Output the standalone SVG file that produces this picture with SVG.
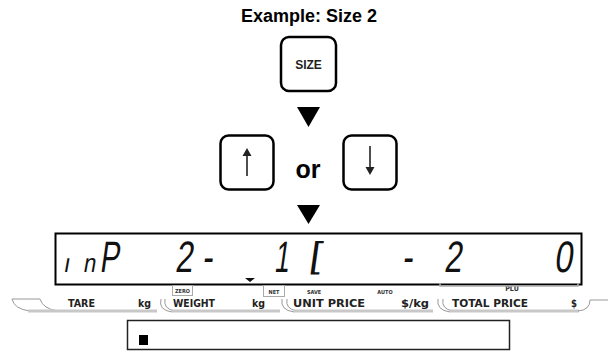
<svg xmlns="http://www.w3.org/2000/svg" width="608" height="353" viewBox="0 0 608 353">
<style>
.key{fill:#fff;stroke:#000;stroke-width:2.5}
.tri{fill:#000}
.seg{font-family:"Liberation Sans",Arial,sans-serif;font-size:44px;fill:#111;text-anchor:middle}
.lbl{font-family:"DejaVu Sans Condensed","DejaVu Sans",sans-serif;font-weight:bold;font-size:10.5px;fill:#222}
.ind{font-family:"DejaVu Sans Condensed","DejaVu Sans",sans-serif;font-weight:bold;font-size:5.5px;fill:#333;text-anchor:middle}
.bar{fill:none;stroke:#c8c8c8;stroke-width:3}
.cur{fill:none;stroke:#999;stroke-width:1}
</style>
<text x="309" y="22" text-anchor="middle" font-family="Liberation Sans,Arial,sans-serif" font-weight="bold" font-size="18" fill="#000">Example: Size 2</text>
<g id="key-size">
<rect class="key" x="281" y="37" width="55" height="54" rx="8"/>
<text x="308.5" y="68.5" text-anchor="middle" font-family="Liberation Sans,Arial,sans-serif" font-weight="bold" font-size="12" fill="#222">SIZE</text>
</g>
<g id="connectors">
<polygon class="tri" points="297,107 320,107 308.5,127"/>
<polygon class="tri" points="297,205 320,205 308.5,224"/>
</g>
<g id="key-up">
<rect class="key" x="220.5" y="135.5" width="53" height="54" rx="8"/>
<line x1="247" y1="153" x2="247" y2="176" stroke="#222" stroke-width="1.6"/>
<polygon points="242.5,156 251.5,156 247,148" fill="#222"/>
</g>
<text id="or" x="308" y="178" text-anchor="middle" font-family="Liberation Sans,Arial,sans-serif" font-weight="bold" font-size="25" fill="#000">or</text>
<g id="key-down">
<rect class="key" x="343.5" y="135.5" width="53" height="54" rx="8"/>
<line x1="370" y1="146" x2="370" y2="170" stroke="#222" stroke-width="1.6"/>
<polygon points="365.5,167 374.5,167 370,175" fill="#222"/>
</g>
<g id="lcd">
<rect x="55.5" y="233.5" width="526" height="51" fill="#fff" stroke="#000" stroke-width="2"/>
<text class="seg" style="font-size:26px" transform="translate(66,272) skewX(-10) scale(0.9,1)">ı</text>
<text class="seg" style="font-size:26px" transform="translate(89,272) skewX(-10) scale(0.85,1)">n</text>
<text class="seg" transform="translate(109,272) skewX(-8) scale(0.66,1)">P</text>
<text class="seg" transform="translate(183.5,272) skewX(-8) scale(0.72,1)">2</text>
<text class="seg" transform="translate(207,272) skewX(-8) scale(0.72,1)">-</text>
<text class="seg" transform="translate(281,272) skewX(-8) scale(0.6,1)">1</text>
<text class="seg" style="font-size:36px" transform="translate(314.5,267) skewX(-8) scale(1.2,1)">[</text>
<text class="seg" transform="translate(407,272) skewX(-8) scale(0.72,1)">-</text>
<text class="seg" transform="translate(452.5,272) skewX(-8) scale(0.72,1)">2</text>
<text class="seg" transform="translate(563,272) skewX(-8) scale(0.75,1)">0</text>
<polygon points="245,278 255,278 250,282" fill="#111"/>
</g>
<g id="indicators">
<rect x="172.5" y="285.5" width="20" height="10" fill="none" stroke="#aaa" stroke-width="1"/>
<text class="ind" x="182.5" y="293">ZERO</text>
<rect x="263.5" y="285.5" width="21" height="11" fill="none" stroke="#aaa" stroke-width="1"/>
<text class="ind" x="274" y="294">NET</text>
<text class="ind" x="314" y="294">SAVE</text>
<text class="ind" x="385" y="294">AUTO</text>
<text class="ind" style="font-size:7px" x="512" y="291">PLU</text>
<path d="M440,283 L440,286 L578,286 L578,283" fill="none" stroke="#aaa" stroke-width="1.5"/>
</g>
<g id="labels">
<path class="cur" d="M12,299 Q14,309 30,311"/>
<path class="cur" d="M12,299 L40,299 Q43,309 58,311"/>
<path class="bar" d="M28,311 L157,311"/>
<path class="cur" d="M161,299 Q158,310 172,312"/>
<path class="cur" d="M165,299 Q163,309 175,311"/>
<path class="bar" d="M172,311 L280,311"/>
<path class="cur" d="M282,299 Q280,310 294,312"/>
<path class="cur" d="M287,299 Q285,309 297,311"/>
<path class="bar" d="M294,311 L433,311"/>
<path class="cur" d="M438,299 Q436,310 450,312"/>
<path class="cur" d="M443,299 Q441,309 453,311"/>
<path class="bar" d="M450,311 L579,311"/>
<path class="cur" d="M578,311 Q590,310 590,300 L608,300"/>
<text class="lbl" x="68" y="307" textLength="27" lengthAdjust="spacingAndGlyphs">TARE</text>
<text class="lbl" x="138" y="307" textLength="13" lengthAdjust="spacingAndGlyphs">kg</text>
<text class="lbl" x="173" y="307" textLength="42" lengthAdjust="spacingAndGlyphs">WEIGHT</text>
<text class="lbl" x="252" y="307" textLength="13" lengthAdjust="spacingAndGlyphs">kg</text>
<text class="lbl" x="293" y="307" textLength="72" lengthAdjust="spacingAndGlyphs">UNIT PRICE</text>
<text class="lbl" x="401" y="307" textLength="28" lengthAdjust="spacingAndGlyphs">$/kg</text>
<text class="lbl" x="452" y="307" textLength="76" lengthAdjust="spacingAndGlyphs">TOTAL PRICE</text>
<text class="lbl" x="571" y="307" textLength="6" lengthAdjust="spacingAndGlyphs">$</text>
</g>
<g id="msg">
<rect x="127.5" y="320.5" width="382" height="29" fill="#fff" stroke="#222" stroke-width="1.5"/>
<rect x="139" y="335" width="9" height="10" fill="#000"/>
</g>
</svg>
